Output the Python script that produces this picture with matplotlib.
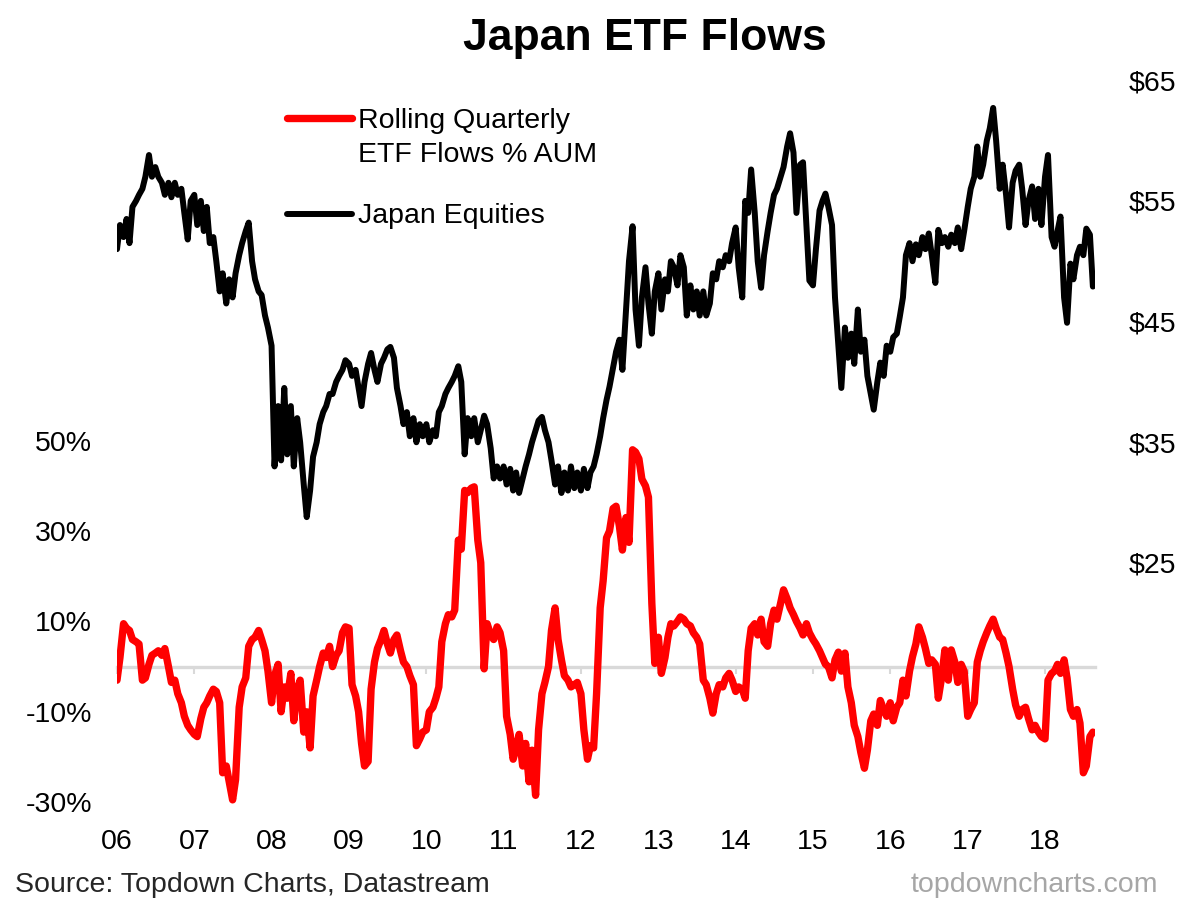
import numpy as np
import pandas as pd
import matplotlib
matplotlib.use("Agg")
import matplotlib.pyplot as plt
from matplotlib.lines import Line2D

plt.rcParams["font.family"] = ["Liberation Sans", "DejaVu Sans"]

# ============================================================
# DATA (semi-monthly readings, 1st and 15th of each month)
# ============================================================
# Rolling quarterly ETF flows, % of AUM (left axis)
flows_2006 = [-3.0, 2.0, 9.5, 8.5, 8.0, 6.0, 5.5, 5.0, -3.0, -2.5, 0.5, 2.5,
              3.0, 3.5, 2.5, 4.0, 0.0, -3.5, -3.0, -6.0, -8.0, -11.0, -13.0, -14.0]
flows_2007 = [-15.0, -15.5, -11.5, -9.0, -8.0, -6.5, -5.0, -5.5, -8.0, -23.5, -22.0, -25.5,
              -29.5, -25.0, -9.0, -4.5, -2.5, 4.5, 6.0, 6.5, 8.0, 6.0, 3.5, -1.0]
flows_2008 = [-8.0, -2.0, 0.5, -10.0, -4.5, -7.0, -1.5, -12.0, -5.0, -3.0, -14.5, -10.0,
              -18.0, -6.5, -3.0, 0.0, 3.0, 2.0, 4.5, 0.0, 2.5, 3.5, 7.5, 8.8]
flows_2009 = [8.5, -4.0, -6.5, -10.0, -17.0, -22.0, -21.0, -5.0, 1.0, 4.0, 6.0, 8.0,
              5.0, 3.0, 6.0, 7.0, 3.5, 1.0, 0.0, -2.0, -4.0, -17.5, -16.0, -14.5]
flows_2010 = [-14.0, -10.0, -9.0, -7.0, -4.5, 5.5, 9.5, 11.5, 11.0, 12.5, 28.0, 26.0,
              39.0, 38.5, 39.5, 39.8, 28.0, 23.0, -0.5, 9.5, 7.0, 6.0, 8.8, 7.5]
flows_2011 = [3.5, -11.0, -15.0, -20.5, -18.0, -15.0, -22.0, -17.0, -25.5, -18.5, -28.5, -14.0,
              -6.0, -3.5, 0.0, 8.0, 13.0, 6.0, 1.5, -2.0, -3.0, -4.5, -4.0, -3.5]
flows_2012 = [-6.0, -14.0, -20.5, -17.5, -18.0, -6.0, 13.0, 19.0, 28.5, 30.0, 35.0, 35.5,
              31.0, 25.8, 33.0, 27.5, 48.0, 47.5, 46.0, 41.5, 40.0, 37.5, 14.0, 0.7]
flows_2013 = [6.5, -1.5, 2.0, 6.5, 9.5, 9.0, 10.0, 11.0, 10.5, 9.5, 9.0, 7.5,
              6.5, 5.0, -3.0, -4.0, -7.0, -10.3, -6.0, -4.0, -4.5, -2.5, -1.5, -3.0]
flows_2014 = [-5.5, -4.5, -5.0, -7.0, 3.5, 8.5, 9.5, 7.0, 10.5, 5.5, 4.5, 9.5,
              12.5, 10.5, 14.0, 17.0, 15.0, 13.0, 11.5, 10.0, 8.5, 7.0, 9.5, 7.5]
flows_2015 = [6.0, 5.0, 3.5, 2.0, 0.5, 0.0, -2.5, 1.5, 3.2, -1.0, 3.0, -4.5,
              -8.0, -13.0, -15.5, -19.0, -22.5, -18.5, -12.0, -10.5, -13.0, -7.5, -9.5, -11.0]
flows_2016 = [-8.0, -12.0, -9.0, -8.0, -3.0, -6.5, -1.0, 2.2, 5.0, 8.8, 6.5, 4.0,
              0.7, 1.5, 0.5, -7.0, -2.0, 3.7, -3.0, 3.7, 1.0, -3.5, 0.5, -1.0]
flows_2017 = [-11.0, -9.5, -8.0, 1.0, 3.5, 5.5, 7.5, 9.0, 10.5, 8.5, 6.5, 6.0,
              3.0, 0.0, -5.0, -8.5, -11.0, -9.5, -9.0, -11.5, -14.0, -13.0, -14.5, -15.5]
flows_2018 = [-16.0, -3.0, -1.5, -1.0, 0.5, -1.5, 1.5, -2.5, -9.5, -11.0, -9.5, -12.5,
              -23.5, -22.0, -15.5, -14.5]

# Japan equities price, $ (right axis)
equity_2006 = [51.0, 53.0, 52.0, 53.5, 51.5, 54.5, 55.0, 55.5, 56.0, 57.0, 58.8, 57.0,
               57.8, 57.0, 56.5, 55.5, 56.5, 55.3, 56.5, 55.5, 56.0, 54.0, 51.8, 55.0]
equity_2007 = [55.5, 53.0, 55.0, 52.5, 54.5, 51.5, 52.0, 50.0, 47.5, 49.0, 46.5, 48.5,
               47.0, 49.0, 50.5, 51.5, 52.5, 53.2, 50.0, 48.5, 47.5, 47.2, 45.5, 44.5]
equity_2008 = [43.0, 33.0, 38.0, 33.5, 39.5, 34.0, 38.0, 33.0, 37.0, 35.0, 31.5, 28.8,
               31.0, 33.8, 35.0, 36.5, 37.5, 38.0, 39.0, 39.0, 40.0, 40.5, 41.0, 41.8]
equity_2009 = [41.5, 40.5, 41.0, 39.5, 38.0, 40.0, 41.5, 42.4, 41.0, 40.0, 41.5, 42.0,
               42.7, 42.9, 42.0, 39.5, 38.0, 36.5, 37.5, 35.5, 37.0, 35.0, 36.5, 35.5]
equity_2010 = [36.5, 35.0, 36.0, 35.5, 37.5, 38.0, 39.0, 39.5, 40.0, 40.5, 41.3, 40.0,
               34.0, 37.0, 35.5, 37.0, 35.0, 36.0, 37.2, 36.5, 34.5, 32.0, 33.0, 32.0]
equity_2011 = [33.0, 31.5, 32.8, 31.0, 32.5, 30.8, 32.0, 33.0, 34.0, 35.0, 36.0, 36.8,
               37.1, 36.0, 35.0, 33.5, 31.5, 33.0, 30.8, 32.5, 31.0, 33.0, 31.2, 32.5]
equity_2012 = [31.0, 32.8, 31.2, 32.5, 33.0, 34.0, 35.5, 37.0, 38.5, 39.6, 41.2, 42.5,
               43.5, 41.0, 46.0, 50.0, 52.9, 46.0, 43.0, 47.0, 49.5, 46.5, 44.0, 47.5]
equity_2013 = [49.0, 46.0, 48.5, 47.5, 50.0, 49.5, 48.0, 50.5, 49.5, 45.5, 48.0, 46.0,
               47.5, 45.5, 47.5, 45.5, 46.5, 49.0, 48.5, 50.0, 49.5, 50.5, 50.0, 51.5]
equity_2014 = [52.8, 49.5, 47.0, 55.0, 54.0, 57.6, 54.0, 50.0, 47.8, 50.5, 52.5, 54.0,
               55.5, 56.0, 57.0, 57.8, 59.5, 60.6, 59.0, 54.0, 58.0, 58.2, 53.0, 48.4]
equity_2015 = [48.0, 51.0, 54.2, 55.0, 55.6, 54.5, 53.0, 47.0, 43.0, 39.5, 44.5, 42.0,
               44.0, 41.5, 46.0, 42.5, 43.5, 40.5, 39.0, 37.7, 40.0, 41.6, 40.5, 43.0]
equity_2016 = [42.5, 43.7, 44.0, 45.4, 47.0, 50.5, 51.5, 50.0, 51.4, 50.5, 52.0, 51.0,
               52.3, 50.5, 48.2, 52.6, 51.5, 52.0, 51.2, 52.2, 51.5, 52.8, 51.0, 52.5]
equity_2017 = [54.5, 56.0, 57.0, 59.5, 57.0, 58.0, 60.0, 61.0, 62.7, 60.0, 56.0, 58.0,
               55.5, 52.8, 56.5, 57.5, 58.0, 56.0, 53.0, 55.0, 56.2, 53.5, 56.0, 53.0]
equity_2018 = [57.0, 58.8, 52.0, 51.2, 52.5, 53.7, 47.0, 44.9, 49.8, 48.5, 50.5, 51.2,
               50.5, 52.7, 52.2, 47.9]

flow_ticks = [-30, -10, 10, 30, 50]
price_ticks = [25, 35, 45, 55, 65]
year_labels = ["06", "07", "08", "09", "10", "11", "12", "13", "14", "15", "16", "17", "18"]

# ============================================================
# BUILD SERIES
# ============================================================
flows = (flows_2006 + flows_2007 + flows_2008 + flows_2009 + flows_2010 + flows_2011
         + flows_2012 + flows_2013 + flows_2014 + flows_2015 + flows_2016 + flows_2017
         + flows_2018)
equity = (equity_2006 + equity_2007 + equity_2008 + equity_2009 + equity_2010
          + equity_2011 + equity_2012 + equity_2013 + equity_2014 + equity_2015
          + equity_2016 + equity_2017 + equity_2018)
dates = pd.date_range("2006-01-01", "2018-08-15", freq="SMS")
year_starts = pd.date_range("2006-01-01", "2018-01-01", freq="YS")

RED = "#FF0000"
GREY = "#D9D9D9"
FS = 20.5

# ============================================================
# PLOT
# ============================================================
fig = plt.figure(figsize=(12, 9.05), dpi=100)
ax = fig.add_axes([117 / 1200, 1 - 808 / 905, 978 / 1200, 730 / 905])
ax2 = ax.twinx()

ax.plot(dates, flows, color=RED, lw=5.3, solid_joinstyle="round",
        solid_capstyle="round", zorder=3)
ax2.plot(dates, equity, color="black", lw=4.3, solid_joinstyle="round",
         solid_capstyle="round", zorder=3)

ax.set_xlim(pd.Timestamp("2006-01-01"), pd.Timestamp("2018-08-25"))
ax.set_ylim(-31.3, 130.3)
ax2.set_ylim(4.7, 65.18)

# zero line doubles as the x axis, year ticks hang below it
for side in ["top", "left", "right"]:
    ax.spines[side].set_visible(False)
    ax2.spines[side].set_visible(False)
ax2.spines["bottom"].set_visible(False)
ax.spines["bottom"].set_position(("data", 0))
ax.spines["bottom"].set_color(GREY)
ax.spines["bottom"].set_linewidth(2.4)
ax.spines["bottom"].set_zorder(1)

ax.set_xticks(year_starts)
ax.set_xticklabels(year_labels)
ax.tick_params(axis="x", direction="out", length=5, width=1.5, color=GREY,
               pad=112, labelsize=FS)

ax.set_yticks(flow_ticks)
ax.set_yticklabels([f"{v}%" for v in flow_ticks])
ax.tick_params(axis="y", length=0, pad=18, labelsize=FS)

ax2.set_yticks(price_ticks)
ax2.set_yticklabels([f"${v}" for v in price_ticks])
ax2.tick_params(axis="y", length=0, pad=24.5, labelsize=FS)

# legend drawn by hand so the red key sits on the first text line
fig.add_artist(Line2D([287 / 1200, 352 / 1200], [1 - 118 / 905] * 2, color=RED,
                      lw=5.3, solid_capstyle="round", transform=fig.transFigure))
fig.add_artist(Line2D([287 / 1200, 352 / 1200], [1 - 214 / 905] * 2, color="black",
                      lw=4.3, solid_capstyle="round", transform=fig.transFigure))
fig.text(358 / 1200, 1 - 128 / 905, "Rolling Quarterly", fontsize=FS, va="baseline")
fig.text(358 / 1200, 1 - 162 / 905, "ETF Flows % AUM", fontsize=FS, va="baseline")
fig.text(358 / 1200, 1 - 223 / 905, "Japan Equities", fontsize=FS, va="baseline")

fig.text(645 / 1200, 1 - 50 / 905, "Japan ETF Flows", fontsize=32, fontweight="bold",
         ha="center", va="baseline")
fig.text(15 / 1200, 1 - 892 / 905, "Source: Topdown Charts, Datastream", fontsize=FS,
         color="#262626", va="baseline")
fig.text(1158 / 1200, 1 - 892 / 905, "topdowncharts.com", fontsize=FS,
         color="#A6A6A6", ha="right", va="baseline")

fig.savefig("out.png", dpi=100)
